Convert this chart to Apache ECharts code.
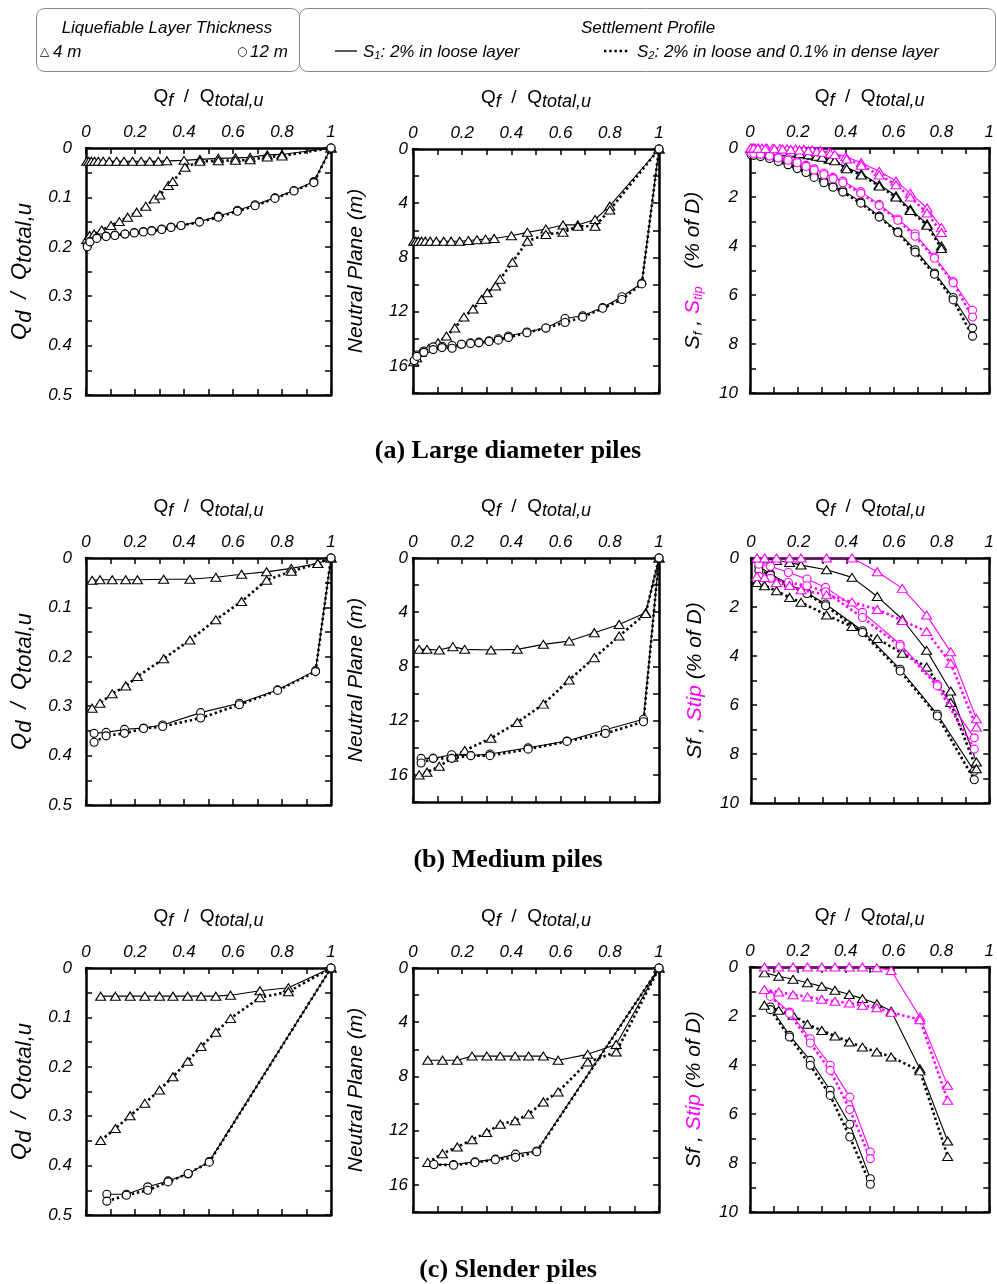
<!DOCTYPE html>
<html><head><meta charset="utf-8">
<script src="https://cdn.jsdelivr.net/npm/echarts@6.0.0/dist/echarts.min.js"></script>
<style>html,body{margin:0;padding:0;background:#fff}#c{width:997px;height:1284px}</style>
</head><body><div id="c"></div><script>
// ---------- DATA ----------
// x ticks
const qfTickStep = 0.1;
// (a) Large diameter piles
const large_tri_qf_s1 = [0.003,0.012,0.022,0.035,0.05,0.07,0.095,0.125,0.155,0.19,0.225,0.26,0.295,0.33,0.4,0.465,0.54,0.61,0.67,0.74,0.8,1];
const large_tri_qf_s2 = [0.003,0.015,0.033,0.064,0.102,0.136,0.17,0.207,0.244,0.279,0.302,0.336,0.354,0.404,0.465,0.54,0.61,0.67,0.74,0.8,1];
const large_cir_qf = [0.005,0.016,0.044,0.082,0.118,0.159,0.197,0.234,0.268,0.309,0.347,0.388,0.463,0.54,0.618,0.69,0.771,0.849,0.93,1];
const large_qd_tri_s1 = [0.027,0.027,0.027,0.027,0.027,0.027,0.027,0.027,0.027,0.027,0.027,0.027,0.027,0.026,0.025,0.023,0.021,0.02,0.019,0.014,0.013,0];
const large_qd_tri_s2 = [0.185,0.177,0.174,0.166,0.157,0.149,0.14,0.13,0.118,0.103,0.095,0.076,0.068,0.039,0.027,0.026,0.025,0.024,0.018,0.016,0];
const large_qd_cir_s1 = [0.197,0.189,0.182,0.178,0.176,0.174,0.171,0.169,0.167,0.164,0.16,0.157,0.149,0.138,0.126,0.115,0.101,0.086,0.068,0];
const large_qd_cir_s2 = [0.2,0.19,0.183,0.179,0.177,0.174,0.172,0.17,0.168,0.165,0.161,0.157,0.15,0.14,0.128,0.117,0.102,0.087,0.07,0];
const large_np_tri_s1 = [6.8,6.8,6.8,6.8,6.8,6.8,6.8,6.8,6.8,6.8,6.75,6.7,6.65,6.6,6.4,6.15,5.9,5.6,5.6,5.2,4.2,0];
const large_np_tri_s2 = [15.7,15.4,15.0,14.7,14.3,13.8,13.2,12.4,11.8,11.1,10.6,10.1,9.6,8.36,6.8,6.3,6.15,5.7,5.7,4.5,0];
const large_np_cir_s1 = [15.6,15.2,14.9,14.6,14.55,14.5,14.4,14.3,14.25,14.15,14.0,13.8,13.5,13.2,12.5,12.3,11.7,10.9,9.9,0];
const large_np_cir_s2 = [15.6,15.3,15.0,14.8,14.65,14.7,14.4,14.35,14.3,14.2,14.1,13.9,13.55,13.2,12.8,12.4,11.75,11.1,9.95,0];
const large_sf_tri_s1 = [0.02,0.03,0.04,0.05,0.06,0.08,0.1,0.13,0.16,0.2,0.25,0.3,0.36,0.45,0.78,1.05,1.5,1.95,2.5,3.1,4.0];
const large_sf_tri_s2 = [0.03,0.04,0.05,0.07,0.1,0.13,0.17,0.22,0.28,0.34,0.38,0.46,0.52,0.85,1.1,1.55,2.0,2.55,3.15,4.1];
const large_stip_tri_s1 = [0,0,0,0,0,0,0.01,0.02,0.03,0.04,0.06,0.08,0.11,0.16,0.35,0.6,0.95,1.35,1.85,2.45,3.25];
const large_stip_tri_s2 = [0,0,0.01,0.02,0.03,0.04,0.06,0.08,0.11,0.14,0.17,0.22,0.26,0.45,0.7,1.1,1.5,2.0,2.65,3.45];
const large_sf_cir_s1 = [0.25,0.27,0.32,0.4,0.5,0.62,0.78,0.95,1.12,1.35,1.55,1.73,2.2,2.78,3.42,4.15,5.1,6.1,7.35];
const large_sf_cir_s2 = [0.28,0.3,0.35,0.43,0.55,0.68,0.84,1.0,1.2,1.42,1.6,1.8,2.25,2.82,3.45,4.25,5.15,6.2,7.68];
const large_stip_cir_s1 = [0.18,0.2,0.24,0.3,0.38,0.45,0.56,0.7,0.85,1.02,1.2,1.35,1.78,2.3,2.9,3.5,4.45,5.45,6.62];
const large_stip_cir_s2 = [0.2,0.22,0.26,0.33,0.41,0.5,0.6,0.75,0.9,1.08,1.25,1.42,1.85,2.35,2.95,3.6,4.5,5.5,6.9];
// (b) Medium piles
const medium_tri_qf = [0.025,0.057,0.107,0.162,0.21,0.317,0.424,0.53,0.635,0.737,0.838,0.946,1];
const medium_cir_qf = [0.033,0.082,0.157,0.235,0.313,0.468,0.626,0.782,0.937,1];
const medium_qd_tri_s1 = [0.045,0.044,0.044,0.044,0.044,0.043,0.043,0.039,0.033,0.028,0.021,0.011,0];
const medium_qd_tri_s2 = [0.304,0.294,0.275,0.259,0.24,0.204,0.166,0.125,0.088,0.045,0.027,0.011,0];
const medium_qd_cir_s1 = [0.355,0.353,0.347,0.344,0.338,0.313,0.294,0.267,0.228,0];
const medium_qd_cir_s2 = [0.373,0.36,0.355,0.345,0.341,0.324,0.297,0.268,0.23,0];
const medium_np_tri_s1 = [6.74,6.74,6.79,6.54,6.74,6.79,6.74,6.37,6.13,5.51,4.9,4.04,0];
const medium_np_tri_s2 = [16.0,15.8,15.37,14.7,14.2,13.3,12.13,10.78,9.0,7.35,5.76,4.09,0];
const medium_np_cir_s1 = [14.78,14.78,14.51,14.58,14.46,14.0,13.5,12.67,11.9,0];
const medium_np_cir_s2 = [15.12,14.78,14.78,14.58,14.58,14.1,13.53,12.94,12.08,0];
const medium_sf_tri_s1 = [0.02,0.04,0.1,0.18,0.29,0.48,0.79,1.57,2.5,3.77,5.43,8.33];
const medium_sf_tri_s2 = [1.0,1.13,1.34,1.61,1.81,2.33,2.8,3.29,3.89,4.45,5.9,8.6];
const medium_stip_tri_s1 = [0,0,0,0,0,0,0,0.56,1.24,2.33,3.83,6.56];
const medium_stip_tri_s2 = [0.75,0.8,1.0,1.12,1.3,1.5,1.8,2.1,2.55,3.0,4.3,6.9];
const medium_sf_cir_s1 = [0.35,0.65,1.06,1.43,1.88,2.97,4.54,6.38,8.7];
const medium_sf_cir_s2 = [0.52,0.7,1.1,1.45,1.95,3.04,4.61,6.45,9.05];
const medium_stip_cir_s1 = [0.25,0.34,0.59,0.86,1.2,2.22,3.52,5.16,7.34];
const medium_stip_cir_s2 = [0.75,0.83,1.0,1.13,1.38,2.43,3.59,5.22,7.8];
// (c) Slender piles
const slender_tri_qf = [0.06,0.12,0.18,0.24,0.3,0.355,0.415,0.47,0.53,0.59,0.71,0.826,1];
const slender_cir_qf = [0.085,0.165,0.252,0.335,0.417,0.503,1];
const slender_qd_tri_s1 = [0.057,0.057,0.057,0.057,0.057,0.057,0.057,0.057,0.057,0.055,0.046,0.04,0];
const slender_qd_tri_s2 = [0.349,0.325,0.299,0.274,0.247,0.22,0.189,0.159,0.13,0.102,0.06,0.048,0];
const slender_qd_cir_s1 = [0.458,0.458,0.443,0.431,0.417,0.392,0];
const slender_qd_cir_s2 = [0.472,0.46,0.45,0.433,0.416,0.393,0];
const slender_np_tri_s1 = [6.8,6.8,6.8,6.5,6.5,6.5,6.5,6.5,6.5,6.8,6.37,5.64,0];
const slender_np_tri_s2 = [14.34,13.7,13.2,12.67,12.13,11.52,11.27,10.78,9.88,9.14,6.94,6.2,0];
const slender_np_cir_s1 = [14.5,14.5,14.3,14.1,13.73,13.5,0];
const slender_np_cir_s2 = [14.5,14.55,14.35,14.15,13.97,13.55,0];
const slender_sf_tri_s1 = [0.24,0.38,0.5,0.64,0.79,0.95,1.12,1.29,1.5,1.8,4.15,7.1];
const slender_sf_tri_s2 = [1.56,1.77,1.97,2.34,2.59,2.82,3.06,3.27,3.47,3.67,4.24,7.73];
const slender_stip_tri_s1 = [0,0,0,0,0,0,0,0,0.03,0.14,2.04,4.83];
const slender_stip_tri_s2 = [0.92,1.02,1.13,1.22,1.32,1.4,1.47,1.56,1.66,1.85,2.15,5.44];
const slender_sf_cir_s1 = [1.63,2.79,3.81,5.03,6.42,8.64];
const slender_sf_cir_s2 = [1.74,2.86,4.01,5.24,6.94,8.87];
const slender_stip_cir_s1 = [1.16,1.84,2.93,4.01,5.31,7.55];
const slender_stip_cir_s2 = [1.2,1.9,3.1,4.22,5.82,7.82];
// axis ranges
const qdAxis = {max:0.5, step:0.05, major:0.1};
const npAxis = {max:18, step:2, major:4, lastLabel:16};
const sAxis  = {max:10, step:1, major:2};
const captions = ['(a) Large diameter piles','(b) Medium piles','(c) Slender piles'];

// ---------- STYLE / BUILD ----------
const BLACK='#000', MAG='#ff00ff';
const FN = "'Liberation Sans Narrow','Liberation Sans',Arial,sans-serif";
const FR = "'Liberation Sans',Arial,sans-serif";
const grids = [
 [86,148,245,247],[413,149,246,244],[750,148,245,245],
 [86,558,245,247],[413,558,246,244],[751,558,244,245],
 [86,968,245,247],[413,968,246,244],[750,967,245,245]
];
function pairs(xs, ys){ return ys.map((y,i)=>[xs[i], y]); }
function isMult(v, m){ const r=v/m; return Math.abs(r-Math.round(r))<1e-6; }
function fmt(v){ return String(parseFloat(v.toFixed(3))); }

const option = {animation:false, grid:[], xAxis:[], yAxis:[], series:[], graphic:[]};
const titleName = '{q|Q}{s|f}{q|  /  Q}{s|total,u}';
const titleRich = {q:{fontSize:19,fontFamily:FR,color:BLACK}, s:{fontSize:18,fontFamily:FR,fontStyle:'italic',color:BLACK,padding:[9,0,0,0]}};

function addPanel(gi, yCfg, yName, yRich, yGap, yMargin){
  const [l,t,w,h] = grids[gi];
  option.grid.push({left:l, top:t, width:w, height:h, containLabel:false});
  const lineS = {onZero:false, lineStyle:{color:BLACK, width:2.5}};
  const tickS = {inside:true, length:6, lineStyle:{color:BLACK, width:1.5}};
  option.xAxis.push({gridIndex:gi, type:'value', position:'top', min:0, max:1, interval:qfTickStep,
    axisLine:lineS, axisTick:tickS, splitLine:{show:false},
    axisLabel:{margin:7, fontSize:17, fontStyle:'italic', fontFamily:FN, color:BLACK,
      formatter:v=> isMult(v,0.2)? fmt(v):''},
    name:titleName, nameLocation:'middle', nameGap:38, nameTextStyle:{rich:titleRich}});
  option.xAxis.push({gridIndex:gi, type:'value', position:'bottom', min:0, max:1, interval:qfTickStep,
    axisLine:lineS, axisTick:tickS, splitLine:{show:false}, axisLabel:{show:false}});
  option.yAxis.push({gridIndex:gi, type:'value', position:'left', inverse:true, min:0, max:yCfg.max, interval:yCfg.step,
    axisLine:lineS, axisTick:tickS, splitLine:{show:false},
    axisLabel:{margin:yMargin, fontSize:17, fontStyle:'italic', fontFamily:FN, color:BLACK,
      formatter:v=> (isMult(v,yCfg.major) && (yCfg.lastLabel===undefined || v<=yCfg.lastLabel))? fmt(v):''},
    name:yName, nameLocation:'middle', nameGap:yGap, nameTextStyle:{rich:yRich}});
  option.yAxis.push({gridIndex:gi, type:'value', position:'right', inverse:true, min:0, max:yCfg.max, interval:yCfg.step,
    axisLine:lineS, axisTick:tickS, splitLine:{show:false}, axisLabel:{show:false}});
}
function ser(gi, xs, ys, sym, color, dotted){
  option.series.push({type:'line', xAxisIndex:gi*2, yAxisIndex:gi*2, data:pairs(xs,ys),
    symbol: sym==='tri'?'triangle':'circle', symbolSize: sym==='tri'?[10,8]:[8,8], showAllSymbol:true,
    itemStyle:{color:'#fff', borderColor:color, borderWidth:1.1},
    lineStyle:{color:color, width: dotted?2.6:1.1, type: dotted?[2.4,2.8]:'solid'},
    silent:true, z: color===MAG?3:2});
}
const nameQd = '{q|Q}{s|d}{q|  /  Q}{s|total,u}';
const richQd = {q:{fontSize:22,fontFamily:FR,fontStyle:'italic',color:BLACK}, s:{fontSize:22,fontFamily:FR,fontStyle:'italic',color:BLACK,padding:[10,0,0,0]}};
const nameNP = '{q|Neutral Plane (m)}';
const richNP = {q:{fontSize:21,fontFamily:FR,fontStyle:'italic',color:BLACK}};
const nameS1 = '{b|S}{bs|f}{b| , }{m|S}{ms|tip}{b|   (% of D)}';
const nameS2 = '{b|Sf , }{m|Stip}{b| (% of D)}';
const richS = {b:{fontSize:21,fontFamily:FR,fontStyle:'italic',color:BLACK},
  bs:{fontSize:13,fontFamily:FR,fontStyle:'italic',color:BLACK,padding:[10,0,0,0]},
  m:{fontSize:21,fontFamily:FR,fontStyle:'italic',color:MAG},
  ms:{fontSize:13,fontFamily:FR,fontStyle:'italic',color:MAG,padding:[10,0,0,0]}};

// Row (a)
addPanel(0, qdAxis, nameQd, richQd, 50, 14);
addPanel(1, npAxis, nameNP, richNP, 46, 5);
addPanel(2, sAxis, nameS1, richS, 45, 12);
ser(0, large_tri_qf_s1, large_qd_tri_s1, 'tri', BLACK, false);
ser(0, large_tri_qf_s2, large_qd_tri_s2, 'tri', BLACK, true);
ser(0, large_cir_qf, large_qd_cir_s1, 'cir', BLACK, false);
ser(0, large_cir_qf, large_qd_cir_s2, 'cir', BLACK, true);
ser(1, large_tri_qf_s1, large_np_tri_s1, 'tri', BLACK, false);
ser(1, large_tri_qf_s2, large_np_tri_s2, 'tri', BLACK, true);
ser(1, large_cir_qf, large_np_cir_s1, 'cir', BLACK, false);
ser(1, large_cir_qf, large_np_cir_s2, 'cir', BLACK, true);
ser(2, large_cir_qf, large_sf_cir_s1, 'cir', BLACK, false);
ser(2, large_cir_qf, large_sf_cir_s2, 'cir', BLACK, true);
ser(2, large_tri_qf_s1, large_sf_tri_s1, 'tri', BLACK, false);
ser(2, large_tri_qf_s2, large_sf_tri_s2, 'tri', BLACK, true);
ser(2, large_cir_qf, large_stip_cir_s1, 'cir', MAG, false);
ser(2, large_cir_qf, large_stip_cir_s2, 'cir', MAG, true);
ser(2, large_tri_qf_s1, large_stip_tri_s1, 'tri', MAG, false);
ser(2, large_tri_qf_s2, large_stip_tri_s2, 'tri', MAG, true);
// Row (b)
addPanel(3, qdAxis, nameQd, richQd, 50, 14);
addPanel(4, npAxis, nameNP, richNP, 46, 5);
addPanel(5, sAxis, nameS2, richS, 45, 12);
ser(3, medium_tri_qf, medium_qd_tri_s1, 'tri', BLACK, false);
ser(3, medium_tri_qf, medium_qd_tri_s2, 'tri', BLACK, true);
ser(3, medium_cir_qf, medium_qd_cir_s1, 'cir', BLACK, false);
ser(3, medium_cir_qf, medium_qd_cir_s2, 'cir', BLACK, true);
ser(4, medium_tri_qf, medium_np_tri_s1, 'tri', BLACK, false);
ser(4, medium_tri_qf, medium_np_tri_s2, 'tri', BLACK, true);
ser(4, medium_cir_qf, medium_np_cir_s1, 'cir', BLACK, false);
ser(4, medium_cir_qf, medium_np_cir_s2, 'cir', BLACK, true);
ser(5, medium_cir_qf, medium_sf_cir_s1, 'cir', BLACK, false);
ser(5, medium_cir_qf, medium_sf_cir_s2, 'cir', BLACK, true);
ser(5, medium_tri_qf, medium_sf_tri_s1, 'tri', BLACK, false);
ser(5, medium_tri_qf, medium_sf_tri_s2, 'tri', BLACK, true);
ser(5, medium_cir_qf, medium_stip_cir_s1, 'cir', MAG, false);
ser(5, medium_cir_qf, medium_stip_cir_s2, 'cir', MAG, true);
ser(5, medium_tri_qf, medium_stip_tri_s1, 'tri', MAG, false);
ser(5, medium_tri_qf, medium_stip_tri_s2, 'tri', MAG, true);
// Row (c)
addPanel(6, qdAxis, nameQd, richQd, 50, 14);
addPanel(7, npAxis, nameNP, richNP, 46, 5);
addPanel(8, sAxis, nameS2, richS, 45, 12);
ser(6, slender_tri_qf, slender_qd_tri_s1, 'tri', BLACK, false);
ser(6, slender_tri_qf, slender_qd_tri_s2, 'tri', BLACK, true);
ser(6, slender_cir_qf, slender_qd_cir_s1, 'cir', BLACK, false);
ser(6, slender_cir_qf, slender_qd_cir_s2, 'cir', BLACK, true);
ser(7, slender_tri_qf, slender_np_tri_s1, 'tri', BLACK, false);
ser(7, slender_tri_qf, slender_np_tri_s2, 'tri', BLACK, true);
ser(7, slender_cir_qf, slender_np_cir_s1, 'cir', BLACK, false);
ser(7, slender_cir_qf, slender_np_cir_s2, 'cir', BLACK, true);
ser(8, slender_cir_qf, slender_sf_cir_s1, 'cir', BLACK, false);
ser(8, slender_cir_qf, slender_sf_cir_s2, 'cir', BLACK, true);
ser(8, slender_tri_qf, slender_sf_tri_s1, 'tri', BLACK, false);
ser(8, slender_tri_qf, slender_sf_tri_s2, 'tri', BLACK, true);
ser(8, slender_cir_qf, slender_stip_cir_s1, 'cir', MAG, false);
ser(8, slender_cir_qf, slender_stip_cir_s2, 'cir', MAG, true);
ser(8, slender_tri_qf, slender_stip_tri_s1, 'tri', MAG, false);
ser(8, slender_tri_qf, slender_stip_tri_s2, 'tri', MAG, true);

// captions
const capY = [451, 860, 1270];
captions.forEach((c,i)=>option.graphic.push({type:'text', x:508, y:capY[i],
  style:{text:c, fill:BLACK, font:"bold 26px 'Liberation Serif','Times New Roman',serif", textAlign:'center', textVerticalAlign:'middle'}}));

// legend box
const LF = "italic 17px 'Liberation Sans',Arial,sans-serif";
option.graphic.push(
  {type:'rect', shape:{x:36.5,y:8.5,width:263,height:63,r:8}, style:{fill:'none',stroke:'#888',lineWidth:1}},
  {type:'rect', shape:{x:299.5,y:8.5,width:696,height:63,r:8}, style:{fill:'none',stroke:'#888',lineWidth:1}},
  {type:'text', x:167, y:28, style:{text:'Liquefiable Layer Thickness', font:LF, fill:BLACK, textAlign:'center', textVerticalAlign:'middle'}},
  {type:'text', x:648, y:28, style:{text:'Settlement Profile', font:LF, fill:BLACK, textAlign:'center', textVerticalAlign:'middle'}},
  {type:'text', x:40, y:52, style:{text:'△', font:"12px 'DejaVu Sans',sans-serif", fill:BLACK, textVerticalAlign:'middle'}},
  {type:'text', x:53, y:52, style:{text:'4 m', font:LF, fill:BLACK, textVerticalAlign:'middle'}},
  {type:'text', x:237, y:52, style:{text:'○', font:"12px 'DejaVu Sans',sans-serif", fill:BLACK, textVerticalAlign:'middle'}},
  {type:'text', x:250, y:52, style:{text:'12 m', font:LF, fill:BLACK, textVerticalAlign:'middle'}},
  {type:'line', shape:{x1:335,y1:51,x2:357,y2:51}, style:{stroke:BLACK,lineWidth:1.3}},
  {type:'line', shape:{x1:604,y1:51,x2:629,y2:51}, style:{stroke:BLACK,lineWidth:2.6,lineDash:[2.4,2.8]}},
  {type:'text', x:363, y:52, style:{text:'{a|S}{b|1}{a|: 2% in loose layer}', fill:BLACK, textVerticalAlign:'middle',
    rich:{a:{font:LF,fill:BLACK}, b:{font:"italic 11px 'Liberation Sans',Arial,sans-serif",fill:BLACK,padding:[8,0,0,0]}}}},
  {type:'text', x:637, y:52, style:{text:'{a|S}{b|2}{a|: 2% in loose and 0.1% in dense layer}', fill:BLACK, textVerticalAlign:'middle',
    rich:{a:{font:LF,fill:BLACK}, b:{font:"italic 11px 'Liberation Sans',Arial,sans-serif",fill:BLACK,padding:[8,0,0,0]}}}}
);

const chart = echarts.init(document.getElementById('c'), null, {renderer:'canvas'});
chart.setOption(option);
</script></body></html>
